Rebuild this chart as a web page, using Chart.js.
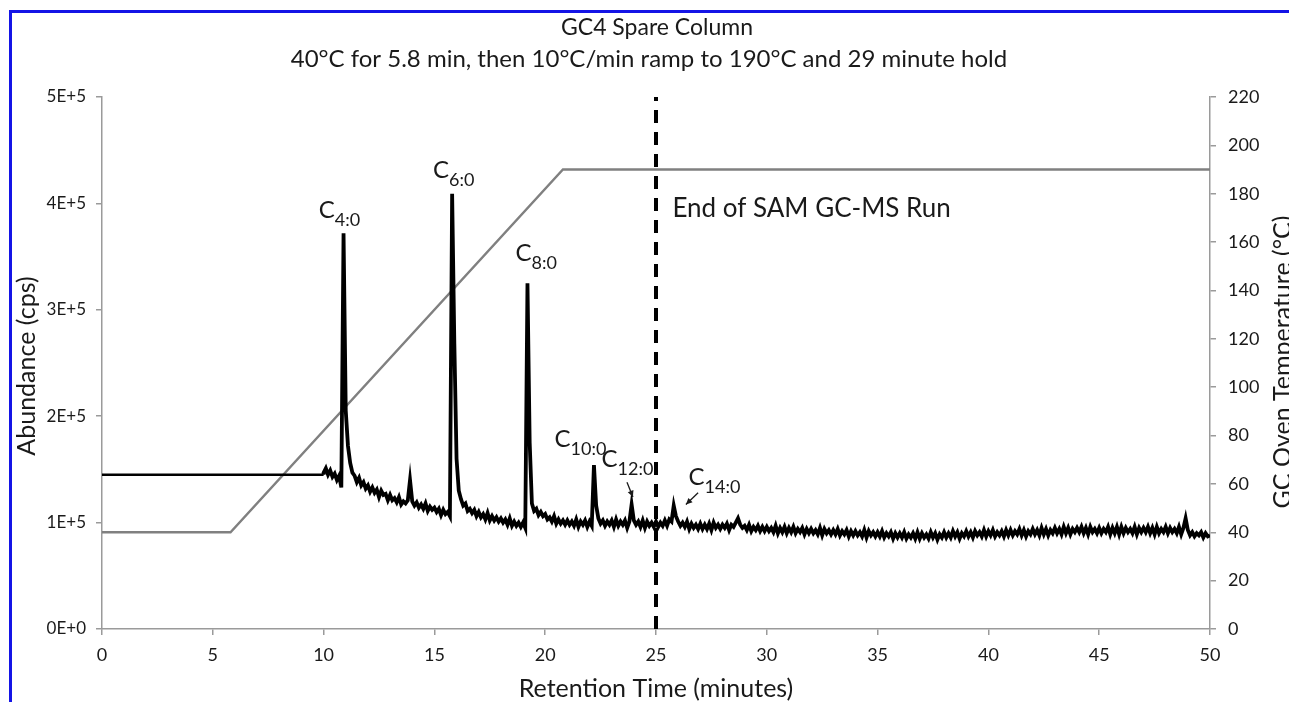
<!DOCTYPE html>
<html>
<head>
<meta charset="utf-8">
<script src="https://cdn.jsdelivr.net/npm/chart.js@4.4.1/dist/chart.umd.min.js"></script>
<style>
html, body { margin: 0; padding: 0; background: #fff; }
#Wrap { position: relative; width: 1289px; height: 702px; overflow: hidden; }
#Frame { position: absolute; left: 9px; top: 10px; width: 1320px; height: 740px; border-left: 3px solid #1414e6; border-top: 3px solid #1414e6; pointer-events: none; }
</style>
</head>
<body>
<div id="Wrap">
    <canvas id="Chromatogram" width="1289" height="702"></canvas>
    <div id="Frame"></div>
</div>
<script>
// flat detector signal before the trace starts recording
let LeadTime = [0, 10]
let LeadAbundanceK = [145, 145]

// recorded trace, kcps, one value every 0.1 min from 10.0 to 50.0
let TraceStart = 10
let TraceStep = 0.1
let TraceAbundanceK = [
    147, 151, 145, 149, 143, 146, 140, 144, 133, 372,
    205, 172, 156, 147, 144, 138, 142, 135, 138, 132,
    135, 129, 133, 128, 131, 124, 130, 126, 127, 121,
    126, 121, 123, 119, 124, 117, 120, 118, 121, 140,
    120, 116, 119, 114, 117, 113, 118, 111, 115, 112,
    114, 110, 113, 107, 112, 108, 110, 106, 409, 268,
    160, 130, 122, 116, 118, 111, 113, 109, 112, 106,
    110, 105, 108, 103, 109, 102, 106, 102, 105, 101,
    104, 100, 103, 98, 104, 97, 101, 97, 100, 96,
    100, 95, 325, 175, 118, 111, 113, 107, 110, 106,
    108, 103, 105, 101, 106, 99, 103, 99, 102, 98,
    102, 98, 101, 97, 103, 96, 101, 98, 102, 96,
    101, 97, 154, 116, 104, 99, 102, 97, 101, 98,
    102, 96, 103, 97, 101, 98, 102, 95, 101, 117,
    102, 98, 101, 96, 102, 95, 101, 97, 100, 96,
    101, 96, 100, 97, 102, 97, 103, 101, 116, 106,
    101, 97, 100, 96, 101, 94, 99, 95, 98, 94,
    99, 94, 98, 94, 99, 93, 100, 95, 98, 94,
    98, 95, 99, 93, 98, 96, 100, 104, 98, 95,
    97, 93, 98, 92, 96, 93, 97, 92, 96, 92,
    96, 92, 95, 91, 97, 90, 95, 91, 96, 90,
    95, 91, 96, 90, 94, 91, 95, 89, 94, 90,
    94, 90, 93, 89, 95, 88, 94, 90, 93, 89,
    93, 89, 94, 88, 92, 89, 93, 87, 92, 88,
    92, 88, 91, 87, 93, 86, 92, 88, 91, 87,
    91, 87, 92, 86, 90, 87, 91, 85, 90, 86,
    90, 86, 91, 85, 89, 86, 90, 85, 91, 85,
    90, 86, 89, 85, 91, 86, 90, 84, 89, 86,
    91, 86, 90, 86, 92, 87, 91, 85, 90, 87,
    92, 87, 91, 86, 92, 88, 91, 87, 93, 87,
    92, 88, 93, 87, 91, 88, 92, 87, 93, 88,
    93, 88, 92, 89, 94, 88, 93, 87, 92, 89,
    94, 89, 93, 88, 95, 89, 94, 88, 93, 90,
    95, 90, 94, 89, 96, 90, 95, 89, 94, 91,
    95, 91, 96, 90, 95, 89, 96, 91, 94, 90,
    95, 90, 94, 91, 96, 89, 95, 90, 96, 89,
    96, 90, 95, 91, 94, 90, 96, 89, 95, 91,
    95, 91, 96, 90, 95, 89, 96, 90, 94, 91,
    96, 90, 95, 91, 94, 90, 96, 89, 95, 104,
    93, 88, 91, 87, 90, 88, 91, 86, 90, 87,
    88
]

// oven program
let TempTime = [0, 5.8, 20.8, 50]
let TempC = [40, 40, 190, 190]

// end of SAM run marker
let RunEndTime = 25
let RunEndSpan = [0, 5e5]

// peaks
let PeakNames = ['4:0', '6:0', '8:0', '10:0', '12:0', '14:0']
let PeakTimes = [10.9, 15.8, 19.2, 22.2, 23.9, 25.8]

let TitleLines = ['GC4 Spare Column', '40\u00B0C for 5.8 min, then 10\u00B0C/min ramp to 190\u00B0C and 29 minute hold']

let FontName = 'Lato, "Open Sans", sans-serif'
let TextColor = '#1a1a1a'
let AxisColor = '#9a9a9a'

function SciLabel(Value) {
    if (Value === 0) return '0E+0'
    let Exp = Math.floor(Math.log10(Value))
    return Math.round(Value / Math.pow(10, Exp)) + 'E+' + Exp
}

let LeadPoints = LeadTime.map((T, i) => ({ x: T, y: LeadAbundanceK[i] * 1000 }))
let TracePoints = TraceAbundanceK.map((V, i) => ({ x: +(TraceStart + i * TraceStep).toFixed(1), y: V * 1000 }))
TracePoints.unshift(LeadPoints[LeadPoints.length - 1])
let TempPoints = TempTime.map((T, i) => ({ x: T, y: TempC[i] }))
let RunEndPoints = RunEndSpan.map(V => ({ x: RunEndTime, y: V }))

// text placement, in data units: left edge and baseline of the "C"
let PeakLabelSpots = [[9.78, 3.86e5], [14.94, 4.24e5], [18.66, 3.46e5], [20.42, 1.71e5], [22.54, 1.52e5], [26.47, 1.35e5]]
let PeakArrows = [[23.69, 1.38e5, 23.96, 1.24e5], [26.9, 1.28e5, 26.35, 1.17e5]]

function Arrow(ctx, X1, Y1, X2, Y2) {
    let Ang = Math.atan2(Y2 - Y1, X2 - X1)
    ctx.beginPath()
    ctx.moveTo(X1, Y1)
    ctx.lineTo(X2, Y2)
    ctx.stroke()
    ctx.beginPath()
    ctx.moveTo(X2, Y2)
    ctx.lineTo(X2 - 7 * Math.cos(Ang - 0.45), Y2 - 7 * Math.sin(Ang - 0.45))
    ctx.lineTo(X2 - 7 * Math.cos(Ang + 0.45), Y2 - 7 * Math.sin(Ang + 0.45))
    ctx.closePath()
    ctx.fill()
}

let TextPlugin = {
    id: 'TextPlugin',
    afterDraw(chart) {
        let ctx = chart.ctx
        let X = chart.scales.x
        let Y = chart.scales.y
        ctx.save()
        ctx.fillStyle = TextColor
        ctx.strokeStyle = TextColor

        // title
        ctx.textAlign = 'center'
        ctx.textBaseline = 'alphabetic'
        ctx.font = '23px ' + FontName
        ctx.fillText(TitleLines[0], 657, 35)
        ctx.font = '24px ' + FontName
        ctx.fillText(TitleLines[1], 649, 67)

        // axis titles
        ctx.font = '25px ' + FontName
        ctx.fillText('Retention Time (minutes)', (X.left + X.right) / 2, 697)
        ctx.save()
        ctx.translate(35, 366)
        ctx.rotate(-Math.PI / 2)
        ctx.fillText('Abundance (cps)', 0, 0)
        ctx.restore()
        ctx.save()
        ctx.translate(1291, 362)
        ctx.rotate(-Math.PI / 2)
        ctx.fillText('GC Oven Temperature (\u00B0C)', 0, 0)
        ctx.restore()

        // peak labels
        ctx.textAlign = 'left'
        PeakNames.forEach((Name, i) => {
            let Px = X.getPixelForValue(PeakLabelSpots[i][0])
            let Py = Y.getPixelForValue(PeakLabelSpots[i][1])
            ctx.font = '24px ' + FontName
            ctx.fillText('C', Px, Py)
            let W = ctx.measureText('C').width
            ctx.font = '18px ' + FontName
            ctx.fillText(Name, Px + W, Py + 8)
        })

        ctx.lineWidth = 1.3
        PeakArrows.forEach(A => {
            Arrow(ctx, X.getPixelForValue(A[0]), Y.getPixelForValue(A[1]), X.getPixelForValue(A[2]), Y.getPixelForValue(A[3]))
        })

        ctx.font = '26px ' + FontName
        ctx.fillText('End of SAM GC-MS Run', X.getPixelForValue(25.74), Y.getPixelForValue(3.87e5))
        ctx.restore()
    }
}

let LineStyle = { pointRadius: 0, tension: 0 }

let Canvas = document.getElementById('Chromatogram')
let GcChart = new Chart(Canvas, {
    type: 'line',
    data: {
        datasets: [{
            label: 'Abundance (lead-in)',
            data: LeadPoints,
            yAxisID: 'y',
            borderColor: '#000000',
            borderWidth: 2.5,
            ...LineStyle,
            order: 1
        }, {
            label: 'Abundance',
            data: TracePoints,
            yAxisID: 'y',
            borderColor: '#000000',
            borderWidth: 3.8,
            borderJoinStyle: 'miter',
            ...LineStyle,
            order: 1
        }, {
            label: 'Oven temperature',
            data: TempPoints,
            yAxisID: 'y1',
            borderColor: '#808080',
            borderWidth: 2.4,
            ...LineStyle,
            order: 2
        }, {
            label: 'End of SAM GC-MS Run',
            data: RunEndPoints,
            yAxisID: 'y',
            borderColor: '#000000',
            borderWidth: 4,
            borderDash: [13, 9],
            ...LineStyle,
            order: 0
        }]
    },
    options: {
        responsive: false,
        animation: false,
        events: [],
        layout: { padding: { top: 97, left: 0, right: 0, bottom: 0 } },
        plugins: {
            legend: { display: false },
            tooltip: { enabled: false },
            title: { display: false }
        },
        scales: {
            x: {
                type: 'linear',
                min: 0,
                max: 50,
                ticks: { stepSize: 5, color: TextColor, font: { family: FontName, size: 18 }, padding: 9, maxRotation: 0 },
                grid: { drawOnChartArea: false, drawTicks: true, tickLength: 6, color: AxisColor, lineWidth: 1.5 },
                border: { color: AxisColor, width: 1.5 },
                afterFit: Scale => { Scale.height = 73 }
            },
            y: {
                position: 'left',
                min: 0,
                max: 5e5,
                ticks: { stepSize: 1e5, color: TextColor, font: { family: FontName, size: 17 }, padding: 10, callback: V => SciLabel(V) },
                grid: { drawOnChartArea: false, drawTicks: true, tickLength: 6, color: AxisColor, lineWidth: 1.5 },
                border: { color: AxisColor, width: 1.5 },
                afterFit: Scale => { Scale.width = 102 }
            },
            y1: {
                position: 'right',
                min: 0,
                max: 220,
                ticks: { stepSize: 20, color: TextColor, font: { family: FontName, size: 18 }, padding: 12 },
                grid: { drawOnChartArea: false, drawTicks: true, tickLength: 6, color: AxisColor, lineWidth: 1.5 },
                border: { color: AxisColor, width: 1.5 },
                afterFit: Scale => { Scale.width = 79 }
            }
        }
    },
    plugins: [TextPlugin]
})
</script>
</body>
</html>
